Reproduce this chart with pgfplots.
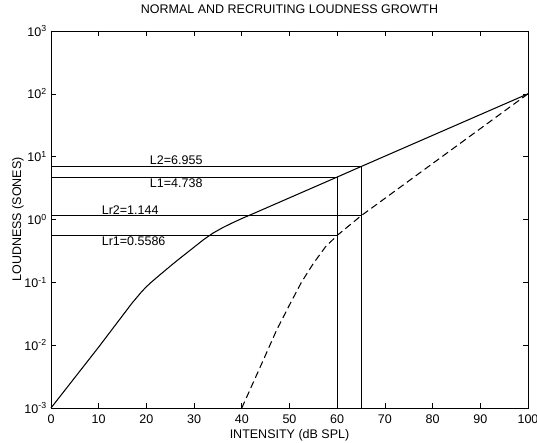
\documentclass[border=0pt]{standalone}
\usepackage{fontspec}
\setmainfont{Liberation Sans}
\usepackage{pgfplots}
\pgfplotsset{compat=1.18}
\begin{document}
\fontsize{12.5}{15}\selectfont
\begin{tikzpicture}
\begin{axis}[
  scale only axis, width=477pt, height=377pt,
  ymode=log, log basis y=10,
  xmin=0, xmax=100, ymin=1e-3, ymax=1e3,
  xtick={0,10,...,100},
  ytick={1e-3,1e-2,1e-1,1,10,100,1000},
  yticklabels={10\textsuperscript{-3},10\textsuperscript{-2},10\textsuperscript{-1},10\textsuperscript{0},10\textsuperscript{1},10\textsuperscript{2},10\textsuperscript{3}},
  /pgf/number format/assume math mode=true,
  tick align=inside, major tick length=5pt, minor tick length=2.5pt,
  every tick/.style={black, line width=0.6pt},
  axis line style={line width=0.9pt},
  ticklabel style={font=\fontsize{12.5}{15}\selectfont},
  xticklabel style={yshift=-2pt},
  title={NORMAL AND RECRUITING LOUDNESS GROWTH},
  title style={at={(axis description cs:0.5,1.0414)}, anchor=center, font=\fontsize{12.5}{15}\selectfont},
  xlabel={INTENSITY (dB SPL)},
  xlabel style={at={(axis description cs:0.5,-0.0711)}, anchor=center, font=\fontsize{12.5}{15}\selectfont},
  ylabel={LOUDNESS (SONES)},
  ylabel style={at={(axis description cs:-0.0692,0.5)}, anchor=center, font=\fontsize{12.5}{15}\selectfont},
  clip=false,
]
% normal loudness growth
\addplot[black, line width=1.05pt] coordinates {
 (0,0.001) (10,0.00933) (17,0.0468) (19,0.0708) (20,0.0851) (21,0.1) (23,0.1349)
 (26,0.2089) (30,0.3631) (32,0.4786) (34,0.6095) (36,0.7413) (38,0.8810)
 (40,1.035) (42,1.202) (60,4.738) (65,6.955) (100,100)};
% recruiting loudness growth
\addplot[black, line width=1.05pt, dash pattern=on 7pt off 4pt] coordinates {
 (40,0.001) (44.5,0.005754) (47.3,0.01738) (50,0.04365) (52.5,0.1)
 (55,0.1995) (57.5,0.3631) (60,0.5586) (65,1.144) (100,100)};
% reference lines
\addplot[black, line width=0.75pt] coordinates {(0,6.955) (65,6.955) (65,0.001)};
\addplot[black, line width=0.75pt] coordinates {(0,4.738) (60,4.738) (60,0.001)};
\addplot[black, line width=0.75pt] coordinates {(0,1.144) (65,1.144)};
\addplot[black, line width=0.75pt] coordinates {(0,0.5586) (60,0.5586)};
\node[anchor=south west, inner sep=1.5pt] at (axis cs:20.4,6.955) {L2=6.955};
\node[anchor=north west, inner sep=1.5pt] at (axis cs:20.4,4.738) {L1=4.738};
\node[anchor=south west, inner sep=1.5pt] at (axis cs:10.3,1.144) {Lr2=1.144};
\node[anchor=north west, inner sep=1.5pt] at (axis cs:10.3,0.5586) {Lr1=0.5586};
\coordinate (bbl) at (axis description cs:-0.1069,-0.0928);
\coordinate (btr) at (axis description cs:1.0189,1.0822);
\end{axis}
\pgfresetboundingbox
\path (bbl) rectangle (btr);
\end{tikzpicture}
\end{document}
